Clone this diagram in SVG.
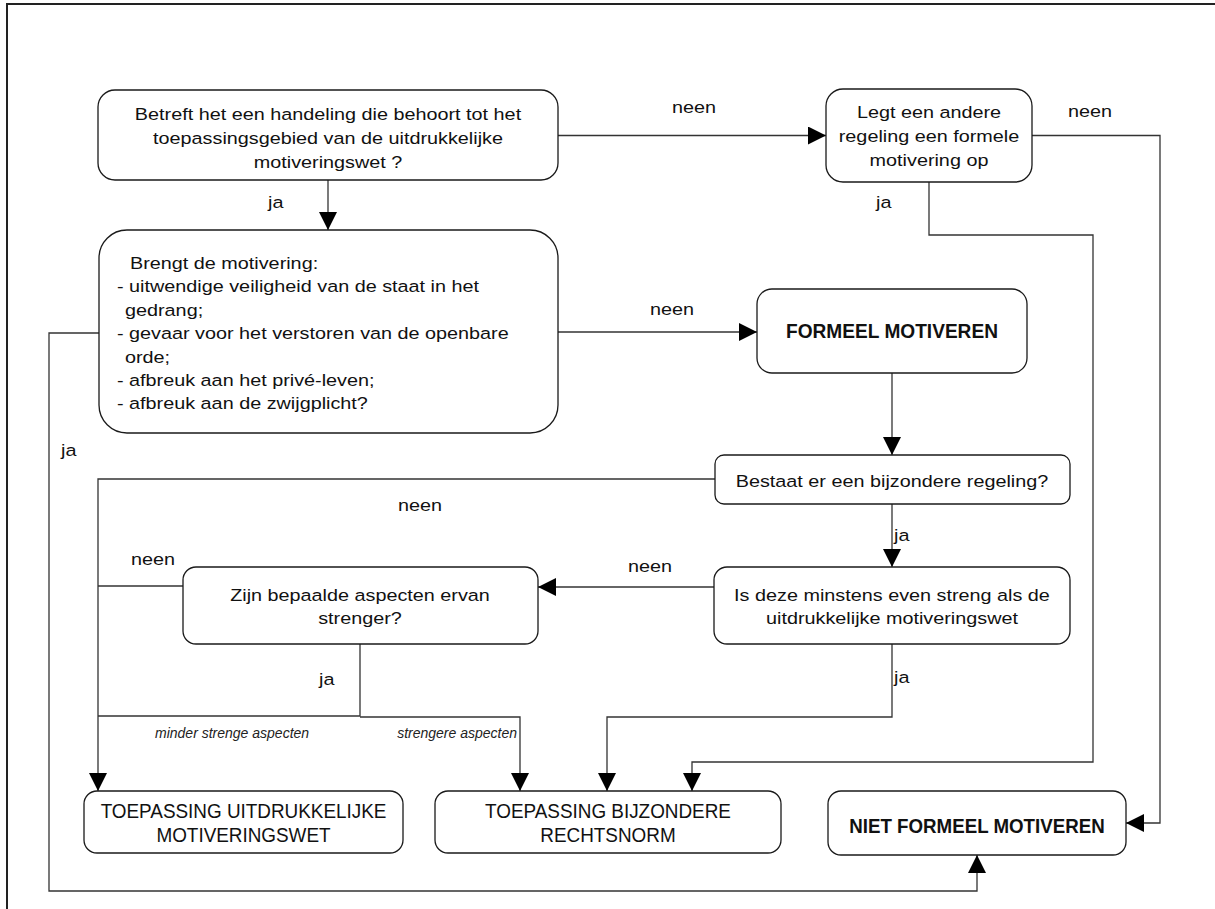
<svg xmlns="http://www.w3.org/2000/svg" width="1215" height="909" viewBox="0 0 1215 909">
<style>
  .box { fill: #ffffff; stroke: #1a1a1a; stroke-width: 1.3; }
  .con { fill: none; stroke: #333333; stroke-width: 1.3; }
  .t { font-family: "Liberation Sans", Arial, sans-serif; font-size: 16.5px; fill: #111111; text-anchor: middle; }
  .l { text-anchor: start; }
  .e { text-anchor: end; }
  .b { font-family: "Liberation Sans", Arial, sans-serif; font-size: 19.5px; font-weight: bold; fill: #111111; text-anchor: middle; }
  .c { font-family: "Liberation Sans", Arial, sans-serif; font-size: 20px; fill: #111111; text-anchor: middle; }
  .i { font-family: "Liberation Sans", Arial, sans-serif; font-size: 14px; font-style: italic; fill: #222222; }
  .frame { fill: none; stroke: #222222; stroke-width: 2; }
</style>
<defs>
  <marker id="ah" markerUnits="userSpaceOnUse" markerWidth="18" markerHeight="18" refX="18" refY="9" orient="auto">
    <path d="M0,0 L18,9 L0,18 Z" fill="#000000"/>
  </marker>
</defs>

<path class="frame" d="M7,909 L7,4 L1215,4"/>

<g id="connectors">
  <path class="con" d="M558,135.5 L826,135.5" marker-end="url(#ah)"/>
  <path class="con" d="M1032,135.5 L1160,135.5 L1160,823 L1126,823" marker-end="url(#ah)"/>
  <path class="con" d="M929,182 L929,235 L1093,235 L1093,762 L692,762 L692,791" marker-end="url(#ah)"/>
  <path class="con" d="M328,180 L328,230" marker-end="url(#ah)"/>
  <path class="con" d="M558,332 L757,332" marker-end="url(#ah)"/>
  <path class="con" d="M99,333 L49,333 L49,891 L977,891 L977,855" marker-end="url(#ah)"/>
  <path class="con" d="M892,373 L892,455" marker-end="url(#ah)"/>
  <path class="con" d="M715,479 L98,479 L98,791" marker-end="url(#ah)"/>
  <path class="con" d="M892,504 L892,567" marker-end="url(#ah)"/>
  <path class="con" d="M714,587 L538,587" marker-end="url(#ah)"/>
  <path class="con" d="M183,586 L98,586"/>
  <path class="con" d="M360,644 L360,716 L98,716"/>
  <path class="con" d="M360,717 L520,717 L520,791" marker-end="url(#ah)"/>
  <path class="con" d="M892,644 L892,717 L607,717 L607,791" marker-end="url(#ah)"/>

  <text class="t" transform="translate(694,113) scale(1.2,1)">neen</text>
  <text class="t" transform="translate(1090,117) scale(1.2,1)">neen</text>
  <text class="t l" transform="translate(876,208) scale(1.2,1)">ja</text>
  <text class="t l" transform="translate(268,208) scale(1.2,1)">ja</text>
  <text class="t" transform="translate(672,315) scale(1.2,1)">neen</text>
  <text class="t l" transform="translate(61,456) scale(1.2,1)">ja</text>
  <text class="t" transform="translate(420,511) scale(1.2,1)">neen</text>
  <text class="t l" transform="translate(894,541) scale(1.2,1)">ja</text>
  <text class="t" transform="translate(650,572) scale(1.2,1)">neen</text>
  <text class="t" transform="translate(153,565) scale(1.2,1)">neen</text>
  <text class="t l" transform="translate(319,685) scale(1.2,1)">ja</text>
  <text class="t l" transform="translate(894,683) scale(1.2,1)">ja</text>
  <text class="i" x="155" y="738">minder strenge aspecten</text>
  <text class="i e" x="517" y="738" text-anchor="end">strengere aspecten</text>
</g>

<g id="node-betreft">
  <rect class="box" x="98" y="90" width="460" height="90" rx="17"/>
  <text class="t" transform="translate(328,120) scale(1.2,1)">Betreft het een handeling die behoort tot het</text>
  <text class="t" transform="translate(328,144) scale(1.2,1)">toepassingsgebied van de uitdrukkelijke</text>
  <text class="t" transform="translate(328,168) scale(1.2,1)">motiveringswet ?</text>
</g>

<g id="node-andere-regeling">
  <rect class="box" x="826" y="89" width="206" height="93" rx="17"/>
  <text class="t" transform="translate(929,118) scale(1.2,1)">Legt een andere</text>
  <text class="t" transform="translate(929,142) scale(1.2,1)">regeling een formele</text>
  <text class="t" transform="translate(929,166) scale(1.2,1)">motivering op</text>
</g>

<g id="node-brengt">
  <rect class="box" x="99" y="230" width="459" height="203" rx="28"/>
  <text class="t l" transform="translate(130,269) scale(1.2,1)">Brengt de motivering:</text>
  <text class="t l" transform="translate(117,292.4) scale(1.2,1)">- uitwendige veiligheid van de staat in het</text>
  <text class="t l" transform="translate(125,315.8) scale(1.2,1)">gedrang;</text>
  <text class="t l" transform="translate(117,339.2) scale(1.2,1)">- gevaar voor het verstoren van de openbare</text>
  <text class="t l" transform="translate(125,362.6) scale(1.2,1)">orde;</text>
  <text class="t l" transform="translate(117,386) scale(1.2,1)">- afbreuk aan het privé-leven;</text>
  <text class="t l" transform="translate(117,409.4) scale(1.2,1)">- afbreuk aan de zwijgplicht?</text>
</g>

<g id="node-formeel">
  <rect class="box" x="757" y="289" width="270" height="84" rx="15"/>
  <text class="b" transform="translate(892,338) scale(0.98,1)">FORMEEL MOTIVEREN</text>
</g>

<g id="node-bestaat">
  <rect class="box" x="715" y="455" width="355" height="49" rx="9"/>
  <text class="t" transform="translate(892,487) scale(1.2,1)">Bestaat er een bijzondere regeling?</text>
</g>

<g id="node-is-deze">
  <rect class="box" x="714" y="567" width="356" height="77" rx="13"/>
  <text class="t" transform="translate(892,601) scale(1.2,1)">Is deze minstens even streng als de</text>
  <text class="t" transform="translate(892,624) scale(1.2,1)">uitdrukkelijke motiveringswet</text>
</g>

<g id="node-zijn">
  <rect class="box" x="183" y="567" width="355" height="77" rx="13"/>
  <text class="t" transform="translate(360,601) scale(1.2,1)">Zijn bepaalde aspecten ervan</text>
  <text class="t" transform="translate(360,624) scale(1.2,1)">strenger?</text>
</g>

<g id="node-toepassing-uitdrukkelijke">
  <rect class="box" x="84" y="791" width="319" height="62" rx="13"/>
  <text class="c" transform="translate(243.5,818) scale(0.945,1)">TOEPASSING UITDRUKKELIJKE</text>
  <text class="c" transform="translate(243.5,842) scale(0.945,1)">MOTIVERINGSWET</text>
</g>

<g id="node-toepassing-bijzondere">
  <rect class="box" x="435" y="791" width="346" height="62" rx="13"/>
  <text class="c" transform="translate(608,818) scale(0.945,1)">TOEPASSING BIJZONDERE</text>
  <text class="c" transform="translate(608,842) scale(0.945,1)">RECHTSNORM</text>
</g>

<g id="node-niet-formeel">
  <rect class="box" x="828" y="791" width="298" height="64" rx="13"/>
  <text class="b" transform="translate(977,833) scale(0.96,1)">NIET FORMEEL MOTIVEREN</text>
</g>
</svg>
